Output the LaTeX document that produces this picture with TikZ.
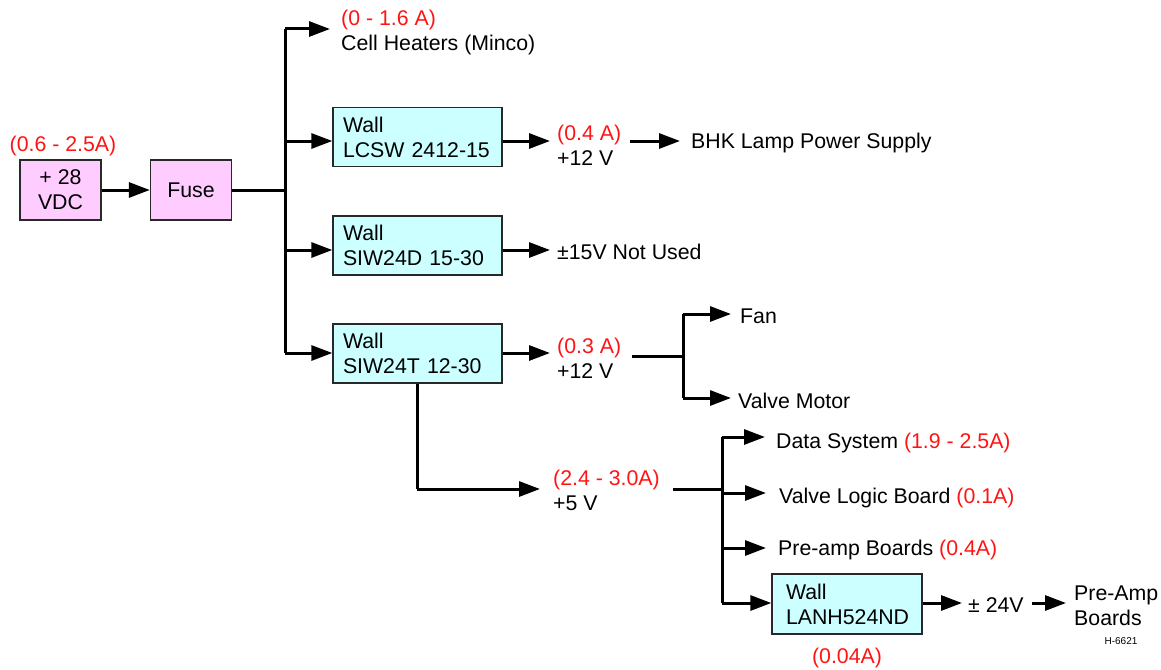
\documentclass[tikz,border=0pt]{standalone}
\usepackage{fontspec}
\setmainfont{Liberation Sans}
\usetikzlibrary{arrows.meta}
\definecolor{pinkbox}{RGB}{255,204,255}
\definecolor{cyanbox}{RGB}{204,255,255}
\definecolor{redtxt}{RGB}{255,20,20}
\definecolor{edge}{RGB}{40,40,40}
\begin{document}
\begin{tikzpicture}[x=1pt,y=-1pt,
  font=\fontsize{21.3}{25}\selectfont,
  wire/.style={line width=3pt},
  arr/.style={wire,-{Triangle[length=21pt,width=15pt]}},
  pbox/.style={draw=edge,line width=1.3pt,fill=pinkbox,minimum width=81pt,minimum height=60pt,align=center,inner sep=0pt},
  cbox/.style={draw=edge,line width=1.3pt,fill=cyanbox,text width=149pt,inner xsep=10pt,inner ysep=0pt,minimum height=59pt,align=left},
  lbl/.style={inner sep=0pt,anchor=west,align=left,yshift=-2pt},
  amp/.style={text=redtxt}]
\useasboundingbox (0,0) rectangle (1161,669);

% source and fuse
\node[amp,inner sep=0pt] (vdcA) at (63,146) {(0.6 - 2.5A)};
\node[pbox] (vdc) at (60.5,190) {+ 28\\VDC};
\node[pbox] (fuse) at (191,190) {Fuse};
\draw[arr] (vdc.east) -- (fuse.west);

\coordinate (bmid) at (285,190);
\coordinate (r1) at (285,29);
\coordinate (r2) at (285,141);
\coordinate (r3) at (285,250);
\coordinate (r4) at (285,353);
\draw[wire] (fuse.east) -- (bmid);
\draw[wire] (r1) -- (r4);

% branch 1
\node[lbl] (ch) at (341,30.5) {\textcolor{redtxt}{(0 - 1.6 A)}\\Cell Heaters (Minco)};
\draw[arr,shorten >=11pt] (r1) -- (r1 -| ch.west);

% branch 2
\node[cbox] (lcsw) at (417.5,137) {Wall\\LCSW 2412-15};
\draw[arr] (r2) -- (r2 -| lcsw.west);
\node[lbl] (o1) at (557,143.5) {\textcolor{redtxt}{(0.4 A)}\\+12 V};
\draw[arr,shorten >=7pt] (r2 -| lcsw.east) -- (r2 -| o1.west);
\node[lbl] (bhk) at (691,141) {BHK Lamp Power Supply};
\coordinate (s2) at (630,141);
\draw[arr,shorten >=11pt] (s2) -- (s2 -| bhk.west);

% branch 3
\node[cbox] (siwd) at (417.5,245.5) {Wall\\SIW24D 15-30};
\draw[arr] (r3) -- (r3 -| siwd.west);
\node[lbl] (nu) at (557,250) {±15V Not Used};
\draw[arr,shorten >=7pt] (r3 -| siwd.east) -- (r3 -| nu.west);

% branch 4
\node[cbox] (siwt) at (417.5,353.5) {Wall\\SIW24T 12-30};
\draw[arr] (r4) -- (r4 -| siwt.west);
\node[lbl] (o3) at (557,356) {\textcolor{redtxt}{(0.3 A)}\\+12 V};
\draw[arr,shorten >=7pt] (r4 -| siwt.east) -- (r4 -| o3.west);
\coordinate (s4) at (632,356);
\coordinate (f0) at (683,356);
\coordinate (fan) at (683,314);
\coordinate (vm) at (683,398);
\draw[wire] (s4) -- (f0);
\draw[wire] (fan) -- (vm);
\node[lbl] (fanT) at (740,314) {Fan};
\draw[arr,shorten >=9pt] (fan) -- (fan -| fanT.west);
\node[lbl] (vmT) at (738,399) {Valve Motor};
\draw[arr,shorten >=7pt] (vm) -- (vm -| vmT.west);

% +5 V branch
\coordinate (d0) at (417,489);
\draw[wire] (siwt.south -| d0) -- (d0);
\node[lbl] (o5) at (553,488.5) {\textcolor{redtxt}{(2.4 - 3.0A)}\\+5 V};
\draw[arr,shorten >=13pt] (d0) -- (d0 -| o5.west);
\coordinate (s5) at (673,489);
\coordinate (d1) at (722,489);
\draw[wire] (s5) -- (d1);
\coordinate (e1) at (722,437);
\coordinate (e2) at (722,493);
\coordinate (e3) at (722,548);
\coordinate (e4) at (722,603);
\draw[wire] (e1) -- (e4);
\node[lbl] (ds) at (776,441) {Data System \textcolor{redtxt}{(1.9 - 2.5A)}};
\draw[arr,shorten >=11pt] (e1) -- (e1 -| ds.west);
\node[lbl] (vl) at (779,496) {Valve Logic Board \textcolor{redtxt}{(0.1A)}};
\draw[arr,shorten >=13pt] (e2) -- (e2 -| vl.west);
\node[lbl] (pa) at (778,548) {Pre-amp Boards \textcolor{redtxt}{(0.4A)}};
\draw[arr,shorten >=12pt] (e3) -- (e3 -| pa.west);
\node[cbox,text width=122pt,inner xsep=14pt,minimum height=60pt] (lanh) at (847,604) {Wall\\LANH524ND};
\draw[arr] (e4) -- (e4 -| lanh.west);
\node[lbl] (pm) at (968,603) {± 24V};
\draw[arr,shorten >=6pt] (e4 -| lanh.east) -- (e4 -| pm.west);
\node[lbl] (pab) at (1074,604) {Pre-Amp\\Boards};
\draw[arr,shorten <=8pt,shorten >=8pt] (e4 -| pm.east) -- (e4 -| pab.west);
\node[amp,inner sep=0pt] (lA) at (847,658) {(0.04A)};
\node[inner sep=0pt,font=\fontsize{10}{12}\selectfont] (hid) at (1121,641) {H-6621};
\end{tikzpicture}
\end{document}
